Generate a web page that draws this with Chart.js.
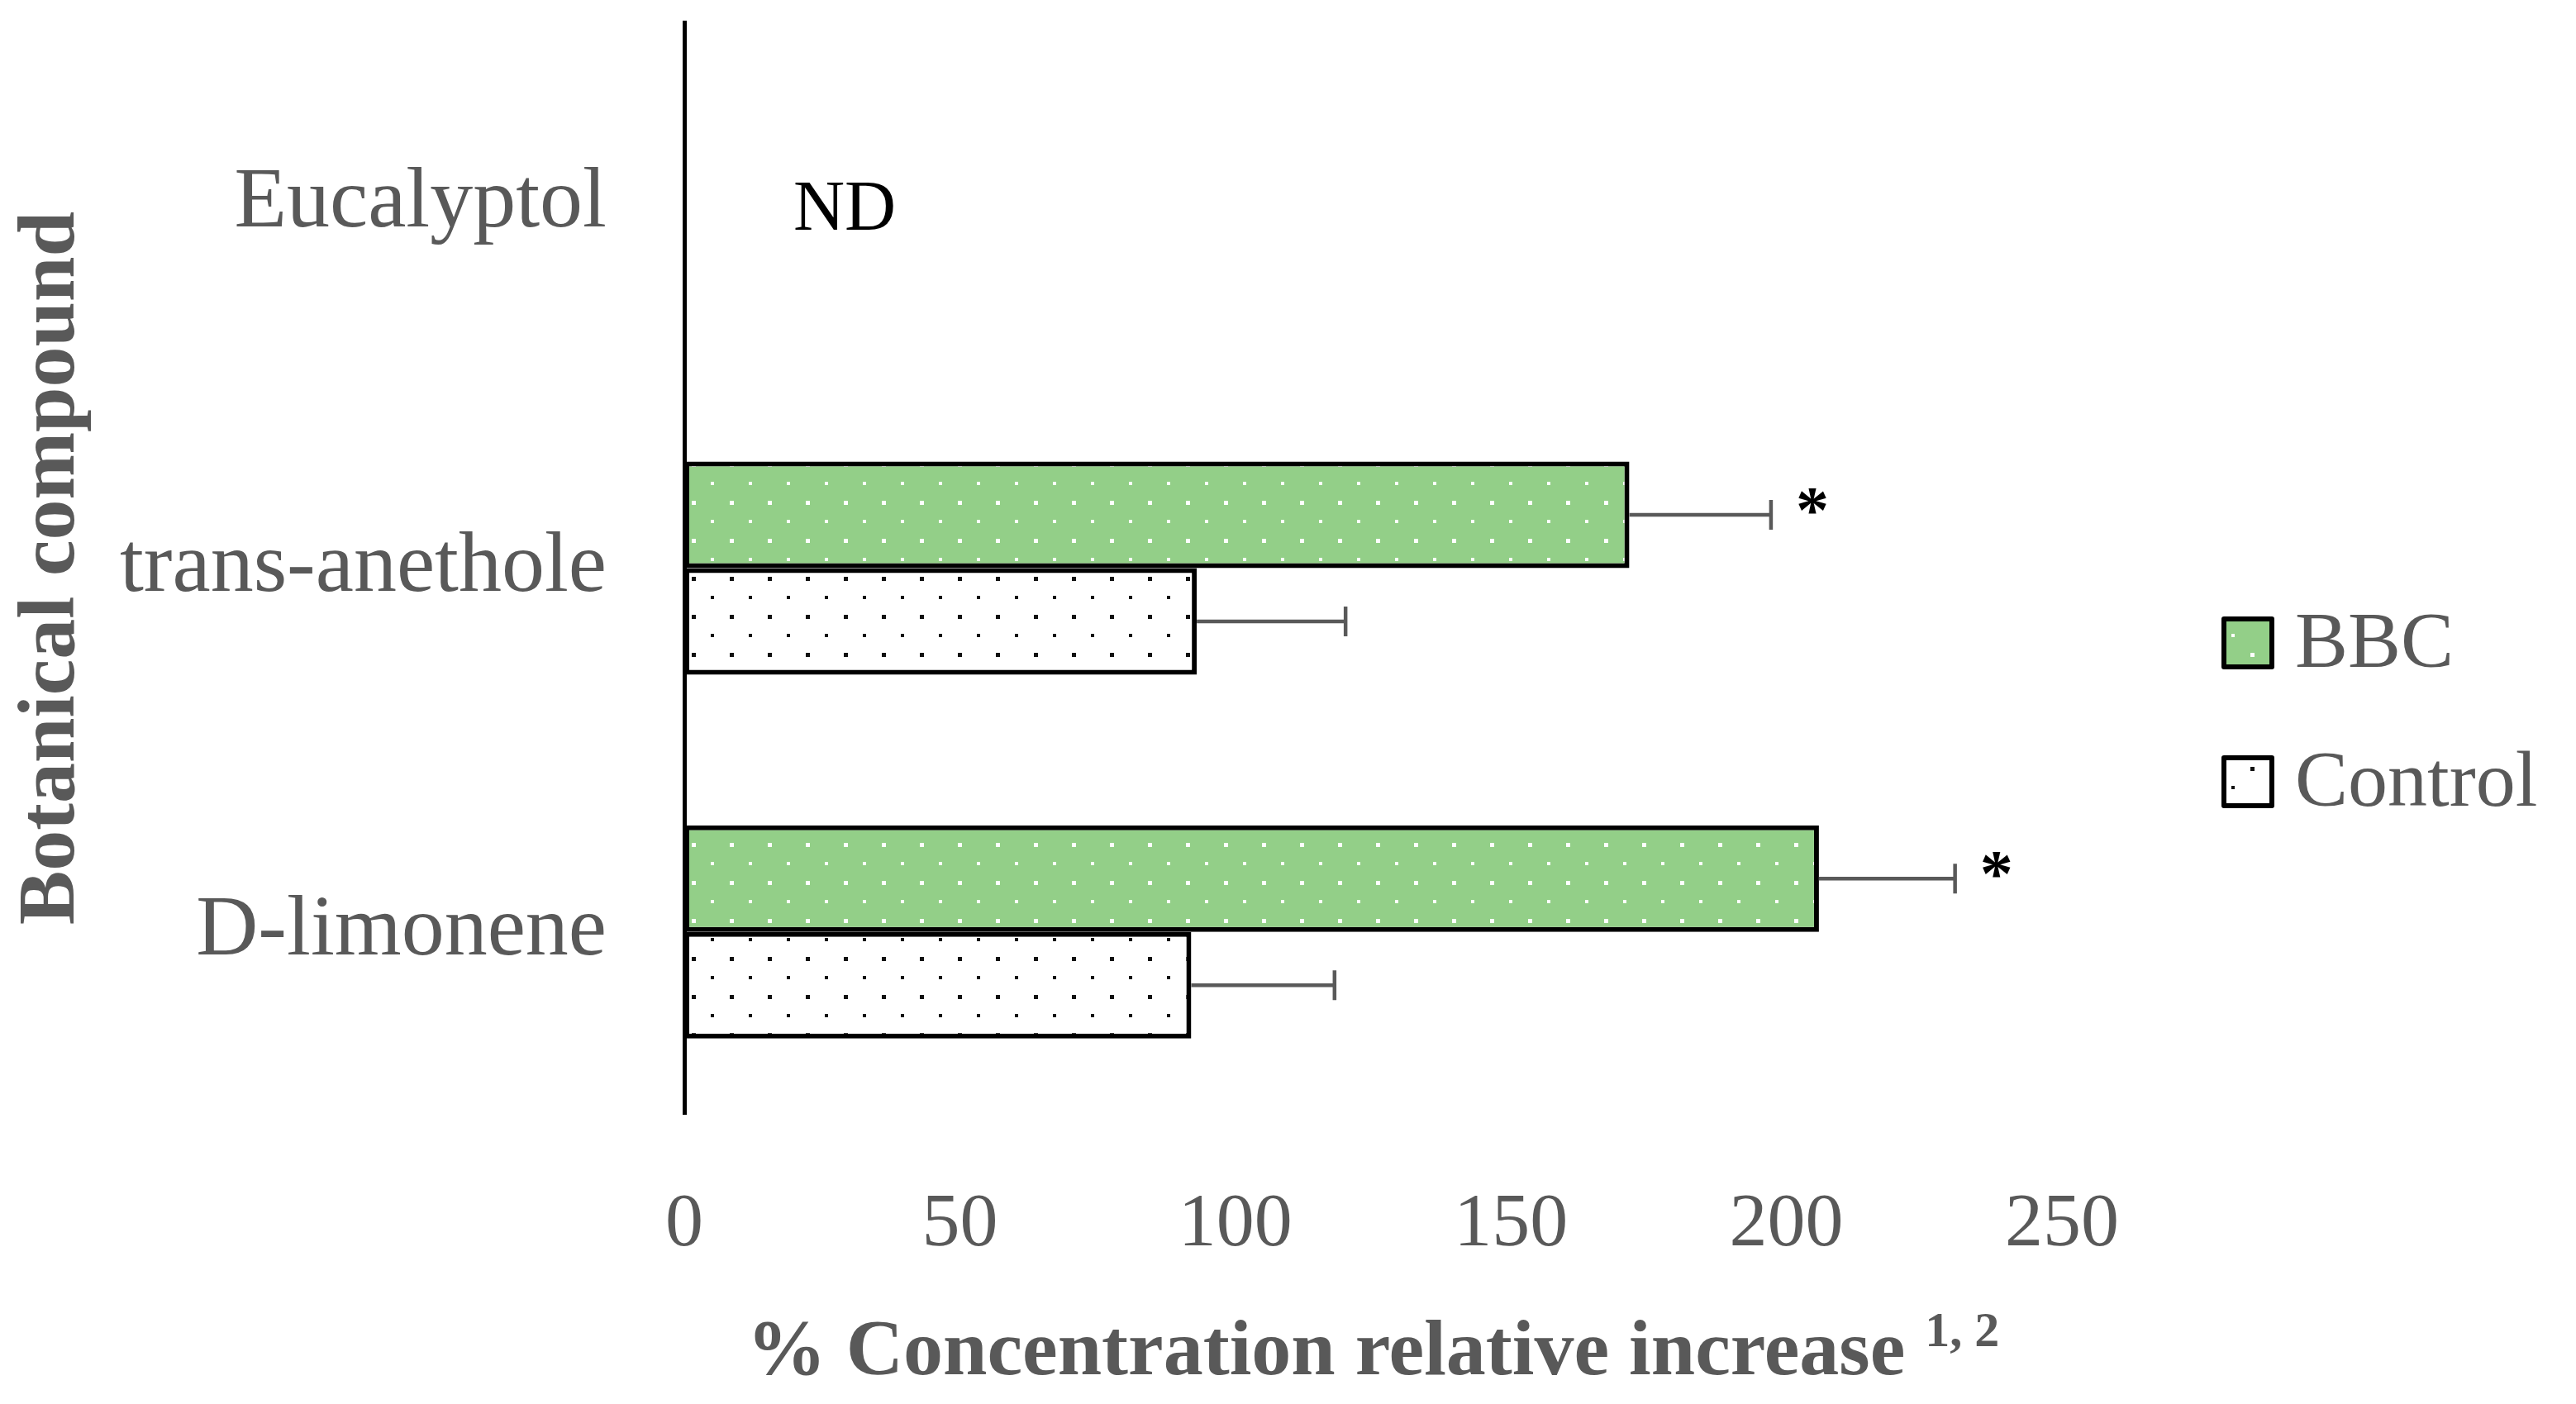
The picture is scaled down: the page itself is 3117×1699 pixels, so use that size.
<!DOCTYPE html>
<html>
<head>
<meta charset="utf-8">
<title>Botanical compound concentration</title>
<script src="https://cdn.jsdelivr.net/npm/chart.js@4.4.0/dist/chart.umd.min.js"></script>
<style>
  html, body { margin: 0; padding: 0; background: #fff; }
  #wrap { width: 3117px; height: 1699px; position: relative; }
</style>
</head>
<body>
<div id="wrap"><canvas id="chart"></canvas></div>
<script>
var compounds = ['Eucalyptol', 'trans-anethole', 'D-limonene'];
var bbcValues = [null, 171.5, 205.9];
var bbcErrors = [null, 25.7, 24.7];
var controlValues = [null, 93, 92];
var controlErrors = [null, 27, 26];
var bbcMarks = ['', '*', '*'];
var controlMarks = ['', '', ''];
var notDetected = ['ND', '', ''];
var xTicks = [0, 50, 100, 150, 200, 250];
var xTitle = '% Concentration relative increase';
var xTitleSup = '1, 2';
var yTitle = 'Botanical compound';

var GREY = '#595959';
var SERIF = "'Liberation Serif', 'Times New Roman', serif";

function makePattern(bg, dot) {
  var c = document.createElement('canvas');
  c.width = 46;
  c.height = 46;
  var g = c.getContext('2d');
  g.fillStyle = bg;
  g.fillRect(0, 0, 46, 46);
  g.fillStyle = dot;
  g.fillRect(9, 8, 5, 5);
  g.fillRect(32, 31, 4, 4);
  return g.createPattern(c, 'repeat');
}

var bbcFill = makePattern('#93cf88', '#ffffff');
var controlFill = makePattern('#ffffff', '#111111');

// error bars, significance marks and the ND note
var extrasPlugin = {
  id: 'extras',
  afterDatasetsDraw: function (chart) {
    var ctx = chart.ctx;
    var xScale = chart.scales.x;
    var yScale = chart.scales.y;
    ctx.save();
    chart.data.datasets.forEach(function (ds, di) {
      var meta = chart.getDatasetMeta(di);
      meta.data.forEach(function (bar, i) {
        var v = ds.data[i];
        if (v === null || v === undefined) {
          return;
        }
        var xEnd = xScale.getPixelForValue(v + ds.errors[i]);
        ctx.strokeStyle = GREY;
        ctx.lineWidth = 4.5;
        ctx.beginPath();
        ctx.moveTo(bar.x, bar.y);
        ctx.lineTo(xEnd, bar.y);
        ctx.moveTo(xEnd, bar.y - 18);
        ctx.lineTo(xEnd, bar.y + 18);
        ctx.stroke();
        if (ds.marks[i]) {
          ctx.fillStyle = '#000';
          ctx.font = 'bold 80px ' + SERIF;
          ctx.textAlign = 'center';
          ctx.textBaseline = 'middle';
          ctx.fillText(ds.marks[i], xEnd + 50, bar.y);
        }
      });
    });
    notDetected.forEach(function (txt, i) {
      if (!txt) {
        return;
      }
      ctx.fillStyle = '#000';
      ctx.font = '86px ' + SERIF;
      ctx.textAlign = 'center';
      ctx.textBaseline = 'middle';
      ctx.fillText(txt, chart.chartArea.left + 194, yScale.getPixelForValue(i) + 8);
    });
    ctx.restore();
  },
  afterDraw: function (chart) {
    var ctx = chart.ctx;
    var area = chart.chartArea;
    ctx.save();

    // legend on the right
    var lx = area.right + 196;
    chart.data.datasets.forEach(function (ds, i) {
      var cy = 778 + i * 168;
      ctx.fillStyle = ds.backgroundColor;
      ctx.fillRect(lx, cy - 29, 58, 58);
      ctx.strokeStyle = '#000';
      ctx.lineWidth = 6;
      ctx.lineJoin = 'round';
      ctx.strokeRect(lx, cy - 29, 58, 58);
      ctx.fillStyle = GREY;
      ctx.font = '96px ' + SERIF;
      ctx.textAlign = 'left';
      ctx.textBaseline = 'middle';
      ctx.fillText(ds.label, lx + 86, cy + 4);
    });

    // x axis title with superscript
    var mainFont = 'bold 96px ' + SERIF;
    var supFont = 'bold 60px ' + SERIF;
    ctx.font = mainFont;
    var wMain = ctx.measureText(xTitle + ' ').width;
    ctx.font = supFont;
    var wSup = ctx.measureText(xTitleSup).width;
    var x0 = (area.left + area.right) / 2 - (wMain + wSup) / 2;
    var base = 1663;
    ctx.fillStyle = GREY;
    ctx.textAlign = 'left';
    ctx.textBaseline = 'alphabetic';
    ctx.font = mainFont;
    ctx.fillText(xTitle + ' ', x0, base);
    ctx.font = supFont;
    ctx.fillText(xTitleSup, x0 + wMain, base - 34);
    ctx.restore();
  }
};

new Chart(document.getElementById('chart'), {
  type: 'bar',
  data: {
    labels: compounds,
    datasets: [{
      label: 'BBC',
      data: bbcValues,
      errors: bbcErrors,
      marks: bbcMarks,
      backgroundColor: bbcFill,
      borderColor: '#000',
      borderWidth: 6,
      borderSkipped: false
    }, {
      label: 'Control',
      data: controlValues,
      errors: controlErrors,
      marks: controlMarks,
      backgroundColor: controlFill,
      borderColor: '#000',
      borderWidth: 6,
      borderSkipped: false
    }]
  },
  options: {
    indexAxis: 'y',
    responsive: true,
    maintainAspectRatio: false,
    devicePixelRatio: 1,
    animation: false,
    layout: { padding: { top: 27, right: 622, bottom: 0, left: 0 } },
    datasets: { bar: { categoryPercentage: 0.586, barPercentage: 1 } },
    plugins: {
      legend: { display: false },
      tooltip: { enabled: false }
    },
    scales: {
      x: {
        min: 0,
        max: 250,
        grid: { display: false, drawTicks: false },
        border: { display: false },
        afterBuildTicks: function (scale) {
          scale.ticks = xTicks.map(function (v) { return { value: v }; });
        },
        afterFit: function (scale) {
          scale.height = 351;
          scale.paddingLeft = 0;
          scale.paddingRight = 0;
        },
        ticks: {
          color: GREY,
          padding: 80,
          font: { family: SERIF, size: 92 }
        }
      },
      y: {
        grid: { display: false, drawTicks: false },
        border: { display: true, color: '#000', width: 5 },
        afterFit: function (scale) {
          scale.width = 828;
          scale.paddingTop = 0;
          scale.paddingBottom = 0;
        },
        ticks: {
          color: GREY,
          padding: 94,
          font: { family: SERIF, size: 104 }
        },
        title: {
          display: true,
          text: yTitle,
          color: GREY,
          padding: { top: 5, bottom: 0 },
          font: { family: SERIF, size: 98, weight: 'bold' }
        }
      }
    }
  },
  plugins: [extrasPlugin]
});
</script>
</body>
</html>
